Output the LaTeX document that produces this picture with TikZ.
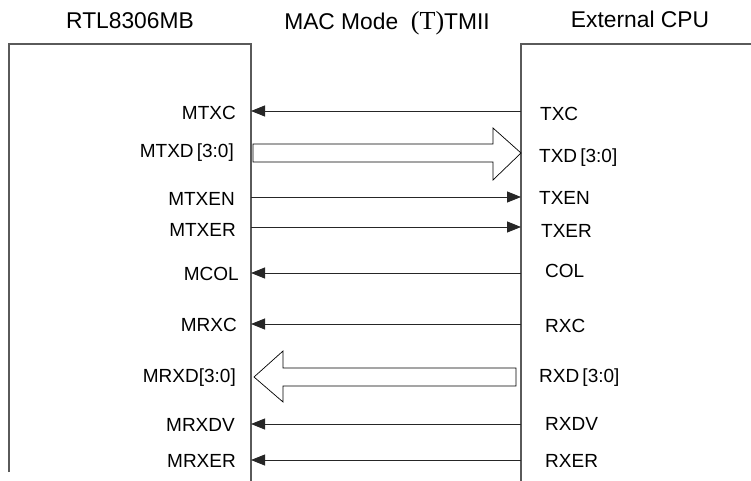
\documentclass[tikz,border=0pt]{standalone}
\usepackage{fontspec}
\setmainfont{Liberation Sans}
\newfontfamily\seriffont{Liberation Serif}
\usetikzlibrary{arrows.meta}
\definecolor{edgegray}{RGB}{90,90,90}
\tikzset{
  boxline/.style={line width=1.2pt, draw=edgegray},
  sig/.style={line width=0.8pt, draw=black!85},
  tip/.style={-{Triangle[length=14pt,width=11pt]}},
  fat/.style={line width=0.7pt, draw=black, fill=white},
  lab/.style={inner sep=0pt, font=\fontsize{19}{19}\selectfont},
  llab/.style={lab, anchor=east},
  rlab/.style={lab, anchor=west},
  title/.style={inner sep=0pt, font=\fontsize{22.8}{23}\selectfont},
}
\begin{document}
\begin{tikzpicture}[x=1pt,y=-1pt]
\useasboundingbox (0,0) rectangle (751,481);
% boxes
\draw[boxline] (9,472) -- (9,44) -- (251,44) -- (251,481);
\draw[boxline] (521,481) -- (521,44) -- (751,44);
% titles
\node[title] (t1) at (130,21) {RTL8306MB};
\node[title] (t2) at (387,23) {MAC Mode\ \ {\seriffont\fontsize{26}{26}\selectfont (T)}TMII};
\node[title] (t3) at (640,19) {External CPU};
% edge coordinates
\foreach \n/\y in {1/111,3/197,4/227,5/273,6/324,8/424,9/460}{
  \coordinate (L\n) at (251,\y);
  \coordinate (R\n) at (521,\y);
}
% left labels
\node[llab] (ml1) at (236,113) {MTXC};
\node[llab] (ml2) at (234,153) {MTXD\,[3:0]};
\node[llab] (ml3) at (235,199) {MTXEN};
\node[llab] (ml4) at (236,230) {MTXER};
\node[llab] (ml5) at (239,274) {MCOL};
\node[llab] (ml6) at (237,325) {MRXC};
\node[llab] (ml7) at (236,378) {MRXD[3:0]};
\node[llab] (ml8) at (235,425) {MRXDV};
\node[llab] (ml9) at (236,461) {MRXER};
% right labels
\node[rlab] (rl1) at (540,114) {TXC};
\node[rlab] (rl2) at (539,158) {TXD\,[3:0]};
\node[rlab] (rl3) at (539,198) {TXEN};
\node[rlab] (rl4) at (541,231) {TXER};
\node[rlab] (rl5) at (545,271) {COL};
\node[rlab] (rl6) at (545,326) {RXC};
\node[rlab] (rl7) at (539,378) {RXD\,[3:0]};
\node[rlab] (rl8) at (545,424) {RXDV};
\node[rlab] (rl9) at (545,461) {RXER};
% thin signals
\draw[sig,tip] (R1) -- (L1);
\draw[sig,tip] (L3) -- (R3);
\draw[sig,tip] (L4) -- (R4);
\draw[sig,tip] (R5) -- (L5);
\draw[sig,tip] (R6) -- (L6);
\draw[sig,tip] (R8) -- (L8);
\draw[sig,tip] (R9) -- (L9);
% fat arrows
\draw[fat] (253,144) -- (493,144) -- (493,128) -- (521,153) -- (493,180) -- (493,162) -- (253,162) -- cycle;
\draw[fat] (516,368) -- (283,368) -- (283,351) -- (254,377) -- (283,402) -- (283,386) -- (516,386) -- cycle;
\end{tikzpicture}
\end{document}
